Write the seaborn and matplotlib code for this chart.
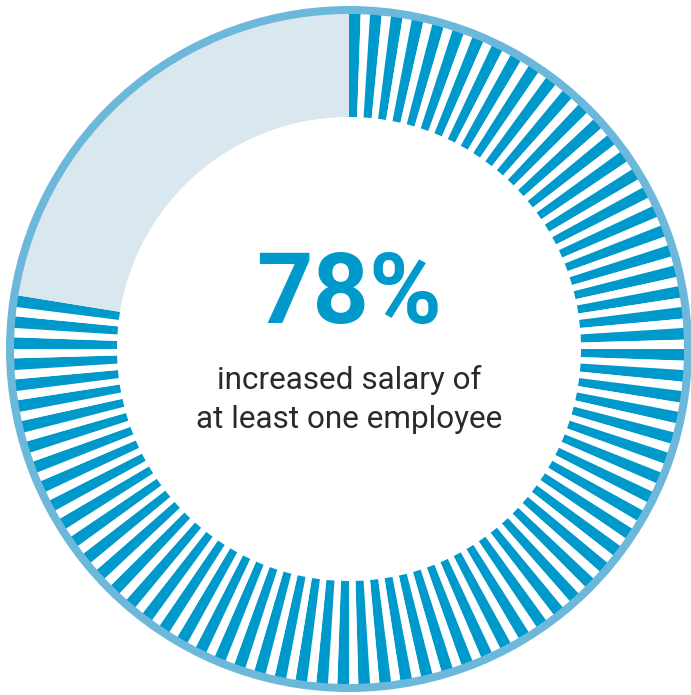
import matplotlib
matplotlib.use("Agg")
import matplotlib.pyplot as plt
import seaborn as sns

# Share of companies and how each percentage point is drawn
share_pct = 78
total_pct = 100
stripe_fill = 0.556  # filled part of each 1% step, the rest is a gap
headline = "78%"
caption_lines = ["increased salary of", "at least one employee"]

stripe_color = "#0099cc"
rest_color = "#d9e7ef"
ring_color = "#6bb8da"
text_color = "#2a2a2a"

sns.set_theme(style="white")
plt.rcParams["font.family"] = ["Roboto", "DejaVu Sans"]

W, H = 691, 695
fig = plt.figure(figsize=(W / 100, H / 100), dpi=100)
ax = fig.add_axes([0, 0, 1, 1])

cx, cy = 349, 346
r_outer = 343
ring_w = 8
r_stripe = r_outer - ring_w + 1
r_inner = 232

# Build stripe/gap slices for the share, then the remainder
sizes, colors = [], []
for i in range(share_pct):
    sizes.append(stripe_fill)
    colors.append(stripe_color)
    if i < share_pct - 1:
        sizes.append(1 - stripe_fill)
        colors.append("white")
sizes.append(total_pct - share_pct + (1 - stripe_fill))
colors.append(rest_color)

ax.pie(sizes, colors=colors, startangle=90, counterclock=False,
       radius=r_stripe, center=(cx, cy),
       wedgeprops=dict(width=r_stripe - r_inner, linewidth=0, antialiased=True))

# Outer ring
ax.pie([1], colors=[ring_color], radius=r_outer, center=(cx, cy),
       wedgeprops=dict(width=ring_w, linewidth=0))

ax.set_xlim(0, W)
ax.set_ylim(0, H)
ax.set_aspect("equal")
ax.axis("off")

ax.text(cx, H - 323, headline, ha="center", va="baseline", color=stripe_color,
        fontsize=71, fontweight="bold")
ax.text(cx, H - 389, caption_lines[0], ha="center", va="baseline",
        color=text_color, fontsize=22.7)
ax.text(cx, H - 428, caption_lines[1], ha="center", va="baseline",
        color=text_color, fontsize=22.7)

fig.savefig("out.png", dpi=100, facecolor="white")
